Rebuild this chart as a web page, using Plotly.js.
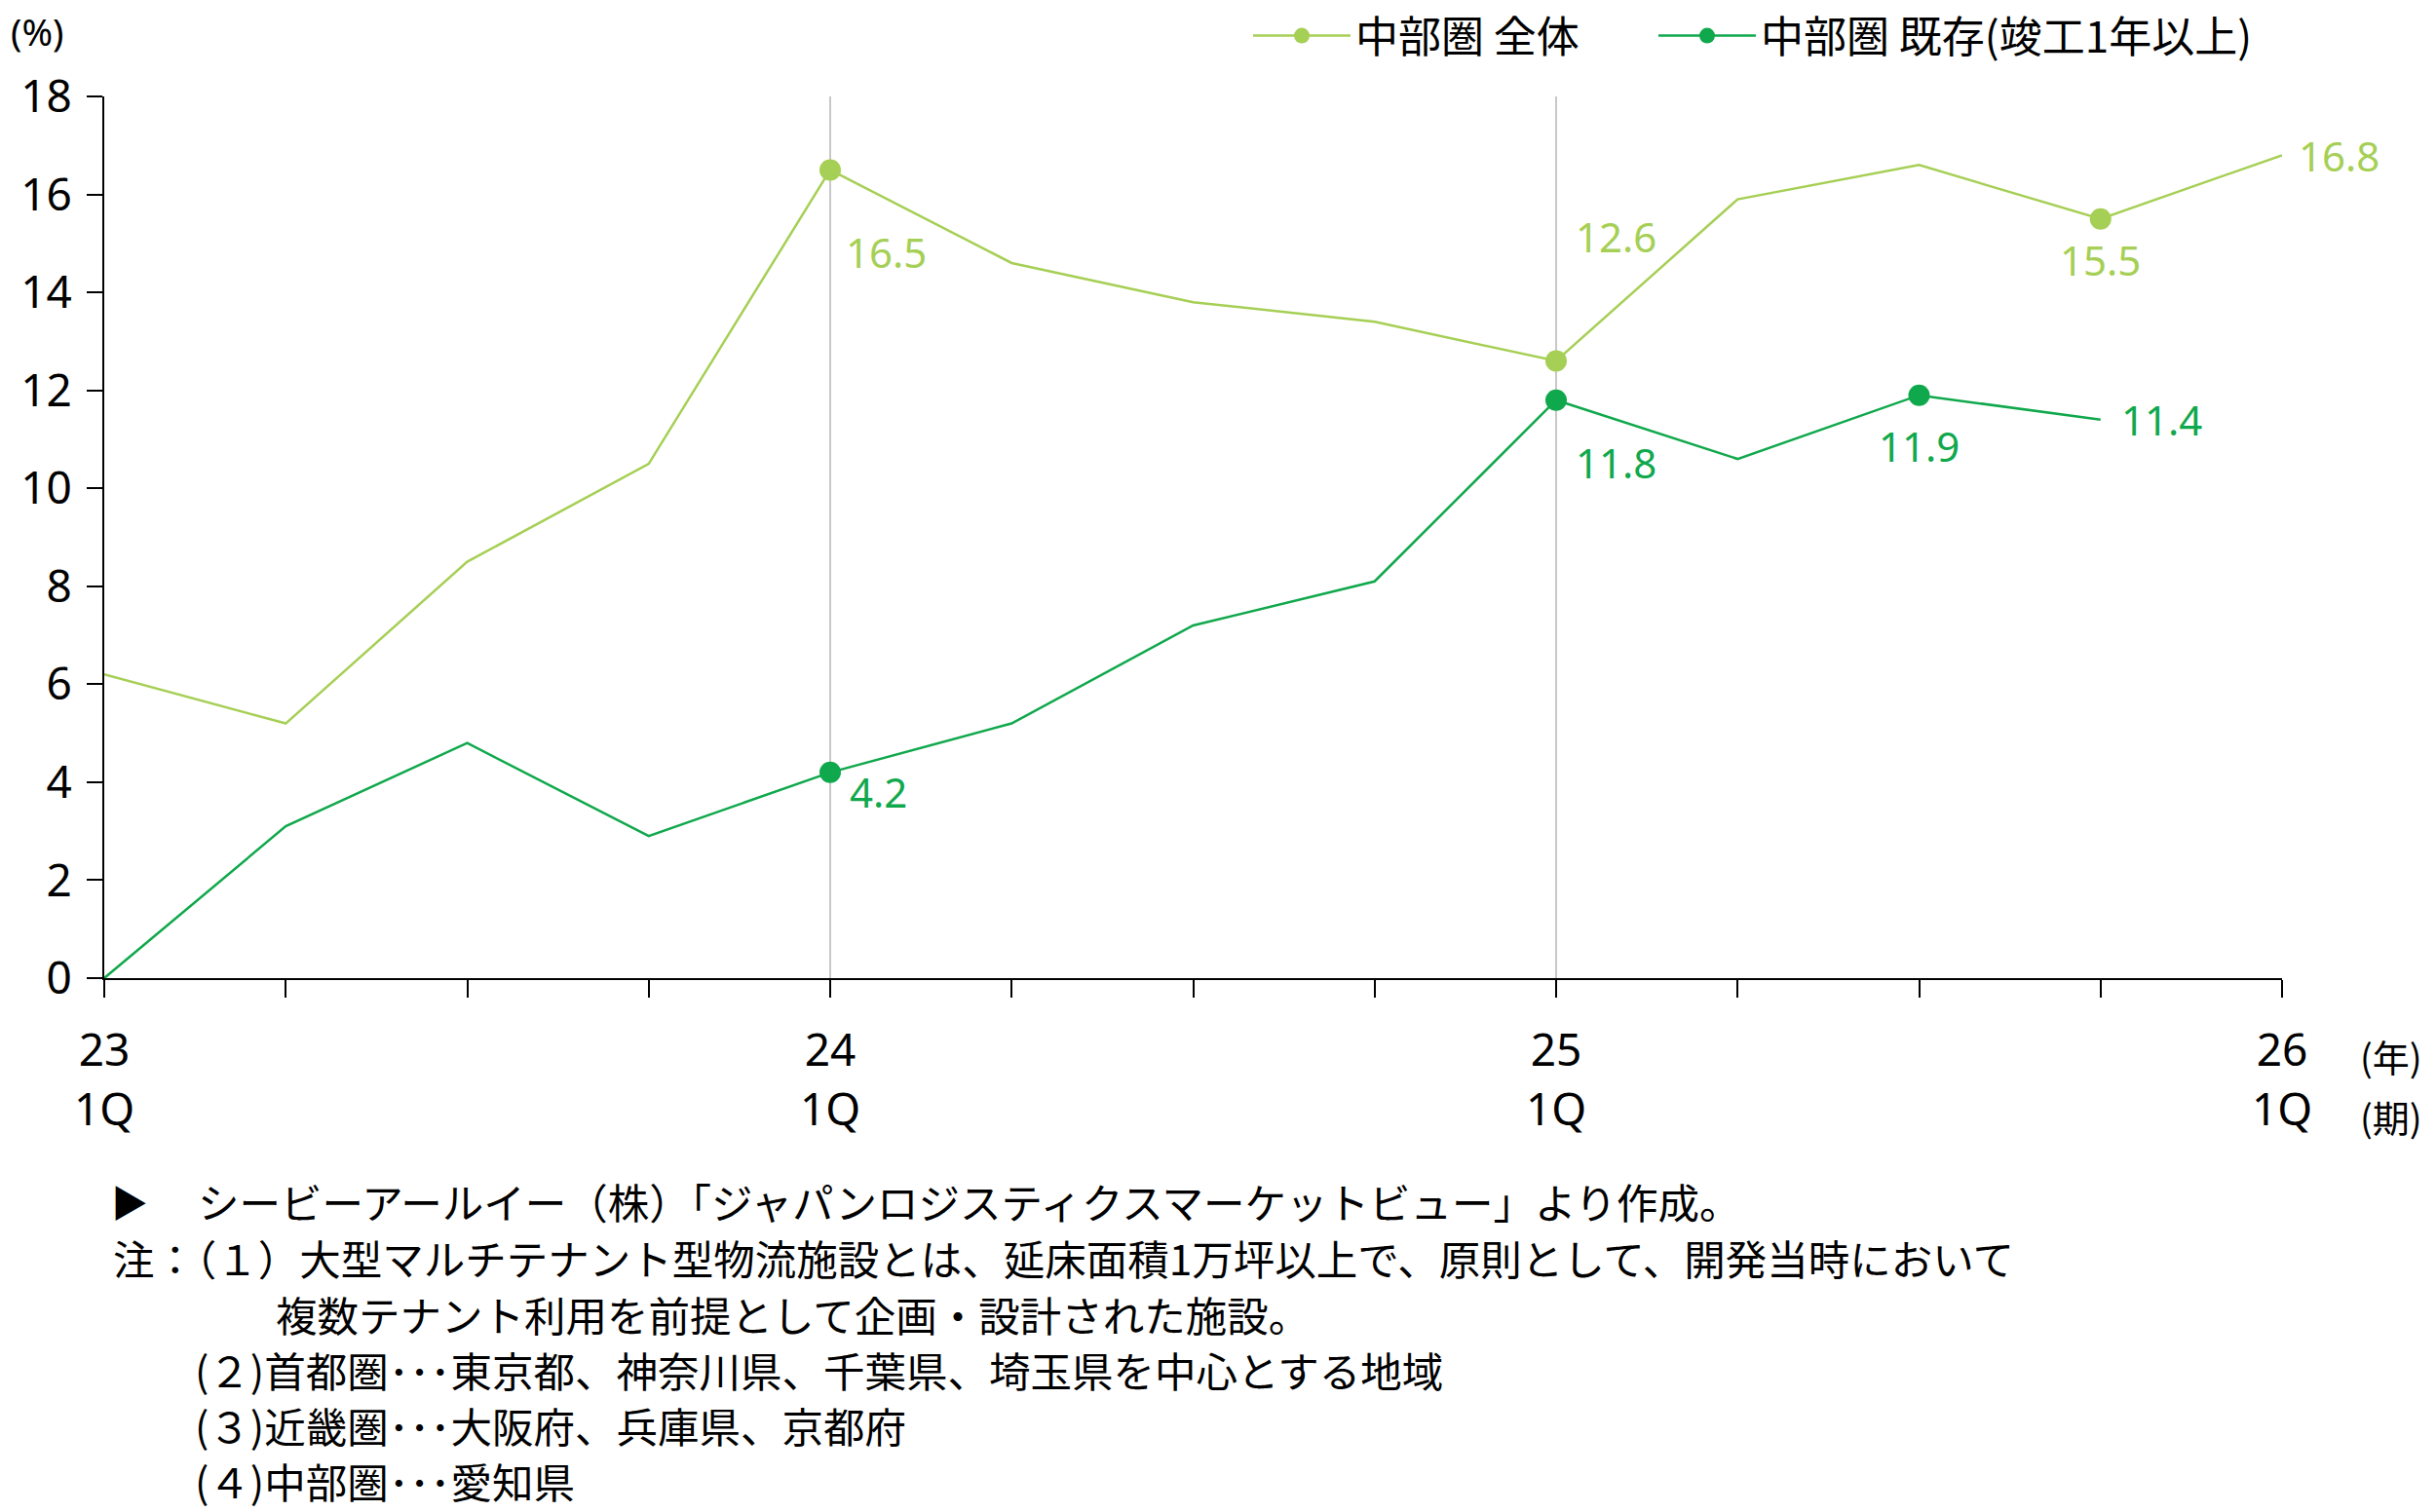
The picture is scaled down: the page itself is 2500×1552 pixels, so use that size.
<!DOCTYPE html>
<html>
<head>
<meta charset="utf-8">
<script src="https://cdn.plot.ly/plotly-3.0.1.min.js"></script>
<style>
  html, body { margin: 0; padding: 0; background: #fff; }
  #chart { width: 2500px; height: 1552px; }
</style>
</head>
<body>
<div id="chart"></div>
<script>
// Quarterly vacancy rate, Chubu area large multi-tenant logistics facilities
const quarterIndex = [0, 1, 2, 3, 4, 5, 6, 7, 8, 9, 10, 11, 12];
const yearLabels    = ['23', '', '', '', '24', '', '', '', '25', '', '', '', '26'];
const quarterLabels = ['1Q', '', '', '', '1Q', '', '', '', '1Q', '', '', '', '1Q'];

const seriesNames = ['中部圏 全体', '中部圏 既存(竣工1年以上)'];
const chubuAll      = [6.2, 5.2, 8.5, 10.5, 16.5, 14.6, 13.8, 13.4, 12.6, 15.9, 16.6, 15.5, 16.8];
const chubuExisting = [0.0, 3.1, 4.8, 2.9, 4.2, 5.2, 7.2, 8.1, 11.8, 10.6, 11.9, 11.4];

// points that carry a marker and a value label
const allLabelled      = [4, 8, 11, 12];
const existingLabelled = [4, 8, 10, 11];
const allMarked        = [4, 8, 11];
const existingMarked   = [4, 8, 10];

const yTicks = [0, 2, 4, 6, 8, 10, 12, 14, 16, 18];

const footLines = [
  '注：（１）大型マルチテナント型物流施設とは、延床面積1万坪以上で、原則として、開発当時において',
  '複数テナント利用を前提として企画・設計された施設。',
  '(２)首都圏･･･東京都、神奈川県、千葉県、埼玉県を中心とする地域',
  '(３)近畿圏･･･大阪府、兵庫県、京都府',
  '(４)中部圏･･･愛知県'
];
const sourceLine = 'シービーアールイー（株）「ジャパンロジスティクスマーケットビュー」より作成。';

// ---- styling ----
const LIGHT = '#a6cf55';
const DARK = '#10a84c';
const NUM_FONT = "'Noto Sans', 'Noto Sans CJK JP', sans-serif";
const JP_FONT = "'Noto Sans CJK JP', 'Noto Sans', sans-serif";

// label offsets in px from each labelled point
const allOffsets = {
  4:  {dx: 57, dy: -84, anchor: 'center'},
  8:  {dx: 61, dy: 128, anchor: 'center'},
  11: {dx: 0,  dy: -42, anchor: 'center'},
  12: {dx: 15, dy: 0,   anchor: 'left'}
};
const existingOffsets = {
  4:  {dx: 49, dy: -20, anchor: 'center'},
  8:  {dx: 61, dy: -64, anchor: 'center'},
  10: {dx: 0,  dy: -52, anchor: 'center'},
  11: {dx: 19, dy: 0,   anchor: 'left'}
};

function lineTrace(values, name, color, marked, legendId) {
  return {
    type: 'scatter',
    mode: 'lines+markers',
    name: name,
    legend: legendId,
    x: quarterIndex.slice(0, values.length),
    y: values,
    line: {color: color, width: 2.5},
    marker: {color: color, size: 22},
    selectedpoints: marked,
    selected: {marker: {opacity: 1}},
    unselected: {marker: {opacity: 0}},
    cliponaxis: false,
    hoverinfo: 'x+y'
  };
}

function valueLabels(values, idxs, offsets, color) {
  return idxs.map(i => ({
    xref: 'x', yref: 'y',
    x: quarterIndex[i], y: values[i],
    text: values[i].toFixed(1),
    showarrow: false,
    xanchor: offsets[i].anchor, yanchor: 'middle',
    xshift: offsets[i].dx, yshift: offsets[i].dy,
    font: {family: NUM_FONT, size: 42, color: color}
  }));
}

const traces = [
  lineTrace(chubuAll, seriesNames[0], LIGHT, allMarked, 'legend'),
  lineTrace(chubuExisting, seriesNames[1], DARK, existingMarked, 'legend2')
];

const paperNote = (text, x, y, size, anchor, family) => ({
  xref: 'paper', yref: 'paper', x: x, y: y, text: text, showarrow: false,
  xanchor: anchor || 'left', yanchor: 'middle',
  font: {family: family || JP_FONT, size: size, color: '#000'}
});

const px = v => (v - 107) / 2235;

const annotations = []
  .concat(valueLabels(chubuAll, allLabelled, allOffsets, LIGHT))
  .concat(valueLabels(chubuExisting, existingLabelled, existingOffsets, DARK))
  .concat([
    paperNote('(%)', -0.031, 1.0745, 38, 'center', NUM_FONT),
    paperNote('(年)', 1.050, -0.0873, 38, 'center'),
    paperNote('(期)', 1.050, -0.1569, 38, 'center'),
    paperNote('▶', px(112), -0.2530, 38),
    paperNote(sourceLine, px(201), -0.2530, 42.5),
    paperNote(footLines[0], px(114), -0.3171, 42.5),
    paperNote(footLines[1], px(281), -0.3812, 42.5),
    paperNote(footLines[2], px(198), -0.4431, 42.5),
    paperNote(footLines[3], px(198), -0.5061, 42.5),
    paperNote(footLines[4], px(198), -0.5691, 42.5)
  ]);

// vertical guides at the start of each year
const guides = [4, 8].map(i => ({
  type: 'line', xref: 'x', yref: 'y',
  x0: quarterIndex[i], x1: quarterIndex[i], y0: 0, y1: 18,
  line: {color: '#c8c8c8', width: 2}, layer: 'below'
}));

const legendStyle = x => ({
  orientation: 'h',
  x: x, xanchor: 'left',
  y: 1.0685, yanchor: 'middle',
  itemwidth: 100,
  font: {family: JP_FONT, size: 44, color: '#000'},
  bgcolor: 'rgba(0,0,0,0)'
});

const layout = {
  width: 2500, height: 1552,
  paper_bgcolor: '#fff', plot_bgcolor: '#fff',
  margin: {l: 107, r: 158, t: 99, b: 548, autoexpand: false},
  showlegend: true,
  legend: legendStyle(px(1281)),
  legend2: legendStyle(px(1697)),
  xaxis: {
    type: 'linear', range: [0, 12], autorange: false,
    tickmode: 'array', tickvals: quarterIndex, ticktext: yearLabels,
    ticks: 'outside', ticklen: 18, tickwidth: 2, tickcolor: '#000',
    showline: true, linecolor: '#000', linewidth: 2,
    showgrid: false, zeroline: false,
    ticklabelstandoff: 15,
    tickfont: {family: NUM_FONT, size: 46, color: '#000'},
    fixedrange: true
  },
  xaxis2: {
    type: 'linear', range: [0, 12], autorange: false,
    overlaying: 'x', anchor: 'free', position: 0, side: 'bottom',
    tickmode: 'array', tickvals: quarterIndex, ticktext: quarterLabels,
    ticks: '', showline: false, showgrid: false, zeroline: false,
    ticklabelstandoff: 104,
    tickfont: {family: NUM_FONT, size: 46, color: '#000'},
    fixedrange: true
  },
  yaxis: {
    range: [0, 18], autorange: false,
    tickmode: 'array', tickvals: yTicks,
    ticks: 'outside', ticklen: 16, tickwidth: 2, tickcolor: '#000',
    showline: true, linecolor: '#000', linewidth: 2,
    showgrid: false, zeroline: false,
    ticklabelstandoff: 6,
    tickfont: {family: NUM_FONT, size: 46, color: '#000'},
    fixedrange: true
  },
  shapes: guides,
  annotations: annotations
};

// an empty trace on the second x axis so its quarter labels are drawn
traces.push({
  type: 'scatter', mode: 'lines', x: [0, 12], y: [null, null],
  xaxis: 'x2', yaxis: 'y', showlegend: false, hoverinfo: 'skip'
});

Plotly.newPlot('chart', traces, layout, {displayModeBar: false, staticPlot: true});
</script>
</body>
</html>
